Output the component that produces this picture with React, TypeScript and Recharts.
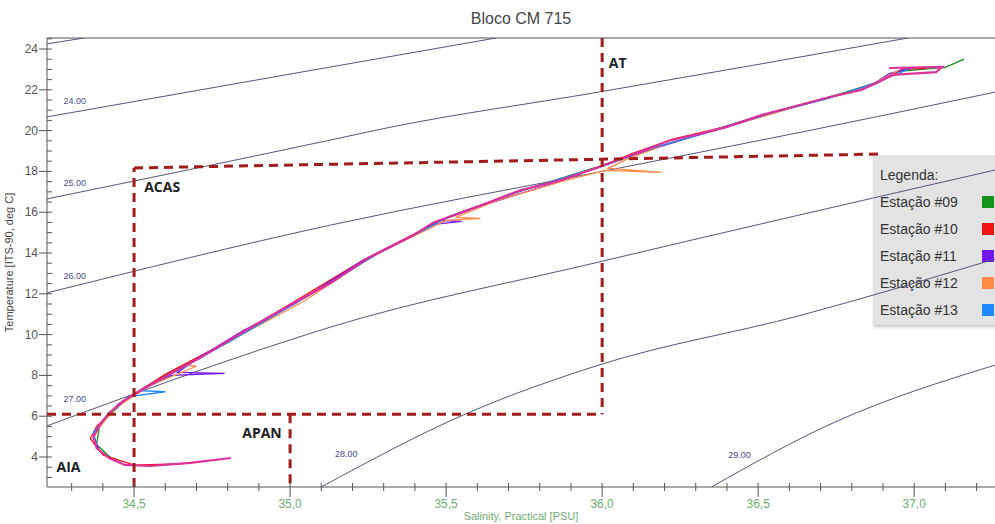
import React from 'react'
import { ComposedChart, XAxis, YAxis, Line, ReferenceDot, ReferenceLine } from 'recharts'

// limites do diagrama T-S
const S_MIN = 34.221
const S_MAX = 37.259
const T_MIN = 2.53
const T_MAX = 24.54

const xMajor = [34.5, 35.0, 35.5, 36.0, 36.5, 37.0]
const xTicks = [
	34.3, 34.4, 34.5, 34.6, 34.7, 34.8, 34.9, 35.0, 35.1, 35.2, 35.3, 35.4, 35.5, 35.6, 35.7,
	35.8, 35.9, 36.0, 36.1, 36.2, 36.3, 36.4, 36.5, 36.6, 36.7, 36.8, 36.9, 37.0, 37.1, 37.2
]
const yMajor = [4, 6, 8, 10, 12, 14, 16, 18, 20, 22, 24]
const yTicks = [
	3, 3.5, 4, 4.5, 5, 5.5, 6, 6.5, 7, 7.5, 8, 8.5, 9, 9.5, 10, 10.5, 11, 11.5, 12, 12.5, 13, 13.5,
	14, 14.5, 15, 15.5, 16, 16.5, 17, 17.5, 18, 18.5, 19, 19.5, 20, 20.5, 21, 21.5, 22, 22.5, 23, 23.5, 24, 24.5
]

// isopicnais (sigma-t)
const sigma23 = [{ s: 34.22, t: 24.25 }, { s: 34.34, t: 24.54 }]
const sigma24 = [{ s: 34.22, t: 20.67 }, { s: 35.13, t: 23.12 }, { s: 35.66, t: 24.54 }]
const sigma25 = [{ s: 34.22, t: 16.65 }, { s: 35.13, t: 19.54 }, { s: 35.31, t: 20.13 }, { s: 35.99, t: 21.89 }, { s: 36.98, t: 24.54 }]
const sigma26 = [{ s: 34.22, t: 12.04 }, { s: 35.13, t: 15.37 }, { s: 35.99, t: 17.97 }, { s: 36.64, t: 19.93 }, { s: 37.26, t: 21.89 }]
const sigma27 = [{ s: 34.22, t: 5.52 }, { s: 35.0, t: 9.74 }, { s: 35.13, t: 10.37 }, { s: 35.99, t: 13.56 }, { s: 37.26, t: 18.07 }]
const sigma28 = [{ s: 35.1, t: 2.53 }, { s: 35.57, t: 6.16 }, { s: 35.99, t: 8.51 }, { s: 36.64, t: 10.96 }, { s: 37.26, t: 13.71 }]
const sigma29 = [{ s: 36.35, t: 2.53 }, { s: 36.74, t: 5.67 }, { s: 37.26, t: 8.51 }]

const isopicnais = [sigma23, sigma24, sigma25, sigma26, sigma27, sigma28, sigma29]

const rotulosSigma = [
	{ s: 34.31, t: 21.45, texto: '24.00' },
	{ s: 34.31, t: 17.43, texto: '25.00' },
	{ s: 34.31, t: 12.87, texto: '26.00' },
	{ s: 34.31, t: 6.84, texto: '27.00' },
	{ s: 35.18, t: 4.15, texto: '28.00' },
	{ s: 36.44, t: 4.1, texto: '29.00' },
]

// limites das massas de agua (tracejado)
const limiteACASvert = [{ s: 34.5, t: 2.53 }, { s: 34.5, t: 18.17 }]
const limiteACAStopo = [{ s: 34.5, t: 18.17 }, { s: 36.885, t: 18.85 }]
const limiteAT = [{ s: 36.0, t: 24.54 }, { s: 36.0, t: 6.1 }]
const limiteBase = [{ s: 34.221, t: 6.1 }, { s: 36.0, t: 6.1 }]
const limiteAPAN = [{ s: 35.0, t: 6.1 }, { s: 35.0, t: 2.53 }]
const limites = [limiteACASvert, limiteACAStopo, limiteAT, limiteBase, limiteAPAN]

const massasDeAgua = [
	{ s: 36.05, t: 23.31, nome: 'AT' },
	{ s: 34.59, t: 17.24, nome: 'ACAS' },
	{ s: 34.91, t: 5.18, nome: 'APAN' },
	{ s: 34.29, t: 3.51, nome: 'AIA' },
]

// perfis CTD
const estacao09 = [
	{ s: 37.16, t: 23.5 }, { s: 37.1, t: 23.1 }, { s: 36.95, t: 22.9 }, { s: 36.89, t: 22.4 }, { s: 36.74, t: 21.7 },
	{ s: 36.52, t: 20.8 }, { s: 36.33, t: 19.9 }, { s: 36.13, t: 19.0 }, { s: 36.0, t: 18.3 }, { s: 35.75, t: 17.1 },
	{ s: 35.51, t: 15.8 }, { s: 35.26, t: 13.8 }, { s: 35.01, t: 11.5 }, { s: 34.8, t: 9.6 }, { s: 34.62, t: 8.2 },
	{ s: 34.48, t: 6.9 }, { s: 34.39, t: 5.6 }, { s: 34.38, t: 4.6 }, { s: 34.43, t: 3.9 }
]
const estacao10 = [
	{ s: 37.04, t: 23.05 }, { s: 36.96, t: 23.0 }, { s: 36.9, t: 22.5 }, { s: 36.8, t: 21.9 }, { s: 36.62, t: 21.2 },
	{ s: 36.41, t: 20.25 }, { s: 36.23, t: 19.6 }, { s: 36.1, t: 18.9 }, { s: 35.98, t: 18.15 }, { s: 35.73, t: 17.0 },
	{ s: 35.49, t: 15.65 }, { s: 35.24, t: 13.7 }, { s: 34.99, t: 11.4 }, { s: 34.78, t: 9.5 }, { s: 34.6, t: 8.05 },
	{ s: 34.46, t: 6.7 }, { s: 34.38, t: 5.5 }, { s: 34.36, t: 4.9 }, { s: 34.4, t: 4.1 }, { s: 34.5, t: 3.6 }, { s: 34.66, t: 3.68 }
]
const estacao11 = [
	{ s: 37.0, t: 23.1 }, { s: 36.92, t: 22.8 }, { s: 36.86, t: 22.2 }, { s: 36.7, t: 21.5 }, { s: 36.5, t: 20.7 },
	{ s: 36.3, t: 19.75 }, { s: 36.11, t: 18.85 }, { s: 35.97, t: 18.1 }, { s: 35.86, t: 17.5 }, { s: 35.62, t: 16.35 },
	{ s: 35.48, t: 15.6 }, { s: 35.55, t: 15.55 }, { s: 35.46, t: 15.4 }, { s: 35.23, t: 13.6 }, { s: 35.02, t: 11.55 },
	{ s: 34.85, t: 10.2 }, { s: 34.7, t: 8.8 }, { s: 34.64, t: 8.15 }, { s: 34.79, t: 8.1 }, { s: 34.62, t: 8.0 },
	{ s: 34.53, t: 7.35 }, { s: 34.45, t: 6.6 }, { s: 34.4, t: 5.8 }, { s: 34.37, t: 5.0 }, { s: 34.39, t: 4.3 }
]
const estacao12 = [
	{ s: 36.95, t: 22.95 }, { s: 36.85, t: 22.15 }, { s: 36.65, t: 21.3 }, { s: 36.45, t: 20.4 }, { s: 36.25, t: 19.6 },
	{ s: 36.08, t: 18.6 }, { s: 36.02, t: 18.15 }, { s: 36.19, t: 17.95 }, { s: 36.01, t: 18.05 }, { s: 35.88, t: 17.55 },
	{ s: 35.66, t: 16.55 }, { s: 35.53, t: 15.75 }, { s: 35.61, t: 15.7 }, { s: 35.5, t: 15.6 }, { s: 35.27, t: 13.9 },
	{ s: 35.04, t: 11.6 }, { s: 34.82, t: 9.8 }, { s: 34.67, t: 8.5 }, { s: 34.7, t: 8.45 }, { s: 34.55, t: 7.5 },
	{ s: 34.44, t: 6.4 }, { s: 34.38, t: 5.3 }
]
const estacao13 = [
	{ s: 36.98, t: 23.0 }, { s: 36.87, t: 22.3 }, { s: 36.72, t: 21.55 }, { s: 36.55, t: 20.9 }, { s: 36.35, t: 19.95 },
	{ s: 36.15, t: 19.1 }, { s: 36.01, t: 18.3 }, { s: 35.76, t: 17.15 }, { s: 35.52, t: 15.85 }, { s: 35.28, t: 13.95 },
	{ s: 35.03, t: 11.65 }, { s: 34.81, t: 9.7 }, { s: 34.66, t: 8.4 }, { s: 34.52, t: 7.25 }, { s: 34.6, t: 7.2 },
	{ s: 34.48, t: 6.95 }, { s: 34.41, t: 6.0 }, { s: 34.37, t: 5.2 }, { s: 34.38, t: 4.6 }
]
// traco rosa que domina o bloco
const perfilBloco = [
	{ s: 36.92, t: 23.07 }, { s: 37.09, t: 23.12 }, { s: 37.07, t: 22.87 }, { s: 36.93, t: 22.73 }, { s: 36.88, t: 22.33 },
	{ s: 36.83, t: 21.99 }, { s: 36.73, t: 21.65 }, { s: 36.61, t: 21.16 }, { s: 36.51, t: 20.76 }, { s: 36.4, t: 20.18 },
	{ s: 36.31, t: 19.83 }, { s: 36.22, t: 19.54 }, { s: 36.12, t: 18.95 }, { s: 35.99, t: 18.22 }, { s: 35.87, t: 17.58 },
	{ s: 35.74, t: 17.09 }, { s: 35.64, t: 16.5 }, { s: 35.5, t: 15.72 }, { s: 35.46, t: 15.5 }, { s: 35.39, t: 14.83 },
	{ s: 35.25, t: 13.75 }, { s: 35.13, t: 12.53 }, { s: 35.0, t: 11.45 }, { s: 34.87, t: 10.32 }, { s: 34.79, t: 9.59 },
	{ s: 34.71, t: 8.85 }, { s: 34.62, t: 8.12 }, { s: 34.54, t: 7.43 }, { s: 34.47, t: 6.79 }, { s: 34.42, t: 6.16 },
	{ s: 34.39, t: 5.57 }, { s: 34.37, t: 4.98 }, { s: 34.38, t: 4.44 }, { s: 34.42, t: 3.95 }, { s: 34.47, t: 3.61 },
	{ s: 34.55, t: 3.56 }, { s: 34.68, t: 3.71 }, { s: 34.81, t: 3.95 }
]

const estacoes = ['Estação #09', 'Estação #10', 'Estação #11', 'Estação #12', 'Estação #13']
const coresEstacoes = ['#13931a', '#f01414', '#7414ee', '#ff8a45', '#1e88ff']
const perfisEstacoes = [estacao09, estacao10, estacao11, estacao12, estacao13]

const XTick = (props: any) => {
	const { x, y, payload } = props
	const major = xMajor.some((m) => Math.abs(m - payload.value) < 1e-6)
	return (
		<g>
			<line x1={x} x2={x} y1={y - 4} y2={y + (major ? 10 : 4)} stroke="#555" />
			{major && (
				<text x={x} y={y + 21} textAnchor="middle" fontSize={12} fill="#72ac72">
					{payload.value.toFixed(1).replace('.', ',')}
				</text>
			)}
		</g>
	)
}

const YTick = (props: any) => {
	const { x, y, payload } = props
	const major = yMajor.some((m) => Math.abs(m - payload.value) < 1e-6)
	return (
		<g>
			<line x1={major ? x - 8 : x} x2={x + 5} y1={y} y2={y} stroke="#555" />
			{major && (
				<text x={x - 9} y={y + 4} textAnchor="end" fontSize={12} fill="#555">
					{payload.value}
				</text>
			)}
		</g>
	)
}

export default function App() {
	return (
		<div style={{ position: 'absolute', left: 0, top: 0, width: 995, height: 524, background: '#fff', overflow: 'hidden', fontFamily: '"Liberation Sans", Arial, sans-serif' }}>
			{/* titulo */}
			<div style={{ position: 'absolute', left: 47, width: 948, top: 9, lineHeight: '20px', textAlign: 'center', fontSize: 16, color: '#444' }}>
				Bloco CM 715
			</div>

			{/* legenda, por baixo das isopicnais */}
			<div style={{ position: 'absolute', left: 873, top: 155, width: 130, height: 170, background: '#e3e3e3', boxShadow: '1px 2px 3px #c4c4c4' }}>
				<div style={{ position: 'absolute', left: 7, top: 10, lineHeight: '20px', fontSize: 14, color: '#333' }}>Legenda:</div>
				{estacoes.map((nome, i) => (
					<div key={nome} style={{ position: 'absolute', left: 7, top: 37 + i * 27, height: 20, width: 120 }}>
						<span style={{ position: 'absolute', left: 0, lineHeight: '20px', fontSize: 14, color: '#333', whiteSpace: 'nowrap' }}>{nome}</span>
						<span style={{ position: 'absolute', left: 102, top: 4, width: 12, height: 12, background: coresEstacoes[i] }} />
					</div>
				))}
			</div>

			<div style={{ position: 'absolute', left: 0, top: 0 }}>
				<ComposedChart width={995} height={524} margin={{ top: 38, right: 0, bottom: 0, left: 0 }}>
					<XAxis
						type="number"
						dataKey="s"
						domain={[S_MIN, S_MAX]}
						allowDataOverflow
						ticks={xTicks}
						interval={0}
						tick={XTick}
						tickLine={false}
						tickSize={0}
						tickMargin={0}
						height={37}
						axisLine={{ stroke: '#555' }}
						label={{
							content: (p: any) => (
								<text x={p.viewBox.x + p.viewBox.width / 2} y={p.viewBox.y + 33} textAnchor="middle" fontSize={11} fill="#72ac72">
									Salinity, Practical [PSU]
								</text>
							),
						}}
					/>
					<YAxis
						type="number"
						dataKey="t"
						domain={[T_MIN, T_MAX]}
						allowDataOverflow
						ticks={yTicks}
						interval={0}
						tick={YTick}
						tickLine={false}
						tickSize={0}
						tickMargin={0}
						width={47}
						axisLine={{ stroke: '#555' }}
						label={{
							content: (p: any) => {
								const cx = p.viewBox.x + 13
								const cy = p.viewBox.y + p.viewBox.height / 2
								return (
									<text x={cx} y={cy} transform={`rotate(-90 ${cx} ${cy})`} textAnchor="middle" fontSize={11} fill="#444">
										Temperature [ITS-90, deg C]
									</text>
								)
							},
						}}
					/>
					<ReferenceLine y={T_MAX} stroke="#8a8a8a" strokeWidth={1.5} />

					{isopicnais.map((d, i) => (
						<Line key={'sig' + i} data={d} dataKey="t" type="monotone" stroke="#555577" strokeWidth={1} dot={false} isAnimationActive={false} />
					))}

					{perfisEstacoes.map((d, i) => (
						<Line key={estacoes[i]} data={d} dataKey="t" type="linear" stroke={coresEstacoes[i]} strokeWidth={1.3} dot={false} isAnimationActive={false} />
					))}
					<Line data={perfilBloco} dataKey="t" type="linear" stroke="#e0309c" strokeWidth={2.2} dot={false} isAnimationActive={false} />

					{limites.map((d, i) => (
						<Line key={'lim' + i} data={d} dataKey="t" type="linear" stroke="#a31c1c" strokeWidth={3} strokeDasharray="9 6" dot={false} isAnimationActive={false} />
					))}

					{rotulosSigma.map((r) => (
						<ReferenceDot key={r.texto} x={r.s} y={r.t} r={0} stroke="none" fill="none"
							label={{ value: r.texto, position: 'center', fontSize: 9, fill: '#4a4a88' }} />
					))}
					{massasDeAgua.map((m) => (
						<ReferenceDot key={m.nome} x={m.s} y={m.t} r={0} stroke="none" fill="none"
							label={{ value: m.nome, position: 'center', fontSize: 14, fontWeight: 'bold', fill: '#222', fontFamily: '"Open Sans", sans-serif' }} />
					))}
				</ComposedChart>
			</div>
		</div>
	)
}
